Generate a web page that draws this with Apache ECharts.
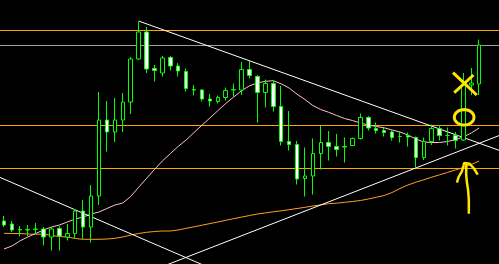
<!DOCTYPE html>
<html><head><meta charset="utf-8">
<script src="https://cdn.jsdelivr.net/npm/echarts@6/dist/echarts.min.js"></script>
<style>html,body{margin:0;padding:0;background:#000;overflow:hidden}#c{width:499px;height:264px}</style>
</head><body><div id="c"></div>
<script>
// bar slots (61 candles + 2 empty slots of chart shift on the right)
const categories = Array.from({length: 63}, (_, i) => String(i + 1));

const opens  = [43,40,34.5,34,34.5,35,27,35.5,27,30.5,53,37,68,144,132,144,162,205,232,195.5,191,206.5,198,192.5,174.5,174,165,162.5,166.5,174,174,194.5,187.5,171.5,180.5,157.5,122.5,119.5,85.5,88,110.5,121.5,117.5,117.5,118.5,125.5,146.5,135.5,133.5,132,127.5,128.5,126.5,106.5,122.5,135.5,128.5,128.5,124,179,180];
const closes = [39,34,34,34.5,35,27,35,28,30.5,53,37,68,144,132,144,162,205,232,195,193.5,206,198,193,175.5,174,165,163,166.5,173.5,174.5,194.5,188.5,171.5,180.5,157.5,122.5,119.5,85,88,110.5,121.5,117.5,114.5,117,125.5,146.5,136,133.5,131.5,126.5,127.5,127,106.5,122.5,135.5,128.5,128.5,123.5,179,181,219];
const lows   = [37,32,27.5,28,30,18.5,13.5,13.5,23.5,25.5,25,21.5,59,112.5,122,132,150,204,191,182.5,187.5,193.5,187.5,172.5,168.5,162.5,157.5,160.5,163.5,167.5,169,185.5,141.5,156.5,152.5,118.5,113.5,79.5,67.5,69.5,94.5,103.5,107.5,101.5,118,124.5,133.5,130.5,127.5,123.5,121.5,117.5,96.5,104,119,123.5,118.5,115.5,123,169,169];
const highs  = [48,43,38,39,41,37,37,38,40,55,64,79,172,163,166,171,207,242.5,237,199,208,208,201,195.5,179,175,170,168.5,176.5,180.5,202,203,189,184.5,183,178,153,123,116.5,125.5,138,133,130,126.5,126.5,150.5,148,141.5,136.5,133.5,132.5,131.5,127.5,126.5,139.5,139,136.5,132,191,196,224.5];

const maFast = [15,18,23,27,30.5,34,37,39,42,45,47,50,52,55.5,59,61,67.5,76.7,85.6,94.5,103,110.3,117.6,124,131.5,138.8,146,153.3,160.5,167,173.3,178.2,181,182.7,183.3,180.2,176,169.8,164.5,158.5,154.5,151.7,148.5,145.5,143.5,141,139,137.5,136.2,134,132,129,125,122,121.5,121.5,122.5,124.5,127,131,136];
const maSlow = [30.7,30.5,30.5,30,29.7,30,28.5,27.5,27,25.5,24.7,24.7,24.7,25,25.7,27,29,30.5,31.7,32.5,33,33,34,35.7,37.2,38.8,40.4,42,43.7,45.3,46.9,48.5,50,51.1,52.2,53.2,54.3,55.5,56.7,58,59.1,60.3,60.8,61.7,62.5,63.5,65,66.7,68.5,71.5,75.5,79,81.8,84.2,86.8,89.2,91.6,94,96.5,99.5,103];

const orangeLevels = [233.5, 138.5, 95.5];
const grayLevels = [218.5];

// trend lines: [[bar, price], [bar, price]]
const trendLines = [
  [[17, 243], [62.5, 113.7]],
  [[-0.5, 86.6], [26, -3.9]],
  [[19.7, -3.5], [62.5, 128.4]]
];

// yellow hand annotations (bar, price)
const crossA = [[56.69, 191.3], [59.69, 169]];
const crossB = [[56.85, 171.3], [59.28, 189]];
const ring = [[58.1, 146.7, 1.24, 7.7]];
const arrowHead = [[57.19,81.3],[57.4,87],[57.81,92.7],[58.03,98.7],[58.1,101],[58.23,101.3],[58.78,100.3],[58.94,99.3],[59.28,96],[59.56,92.7],[59.81,89.3]];
const arrowShaft = [[58.38,100],[58.35,90.3],[58.44,82],[58.6,74],[58.69,64],[58.69,50.3]];

const candleData = opens.map((o, i) => [o, closes[i], lows[i], highs[i]]);

const lime = '#00ff00', yellow = '#ffe600', orange = '#ffa500';
function seg(data, color, width) {
  return {type: 'line', xAxisIndex: 1, yAxisIndex: 0, data: data, symbol: 'none', silent: true,
    lineStyle: {color: color, width: width}, clip: true, z: 3};
}
const series = [];
orangeLevels.forEach(l => series.push(seg([[-0.5, l], [62.5, l]], orange, 1)));
grayLevels.forEach(l => series.push(seg([[-0.5, l], [62.5, l]], '#a0a0a4', 1)));
series.push(seg(maSlow.map((v, i) => [i, v]), '#ff9f1a', 1));
series.push(seg(maFast.map((v, i) => [i, v]), '#ffc0cb', 1));
trendLines.forEach(t => series.push(seg(t, '#ffffff', 1)));
series.push({
  type: 'candlestick', xAxisIndex: 0, yAxisIndex: 0, data: candleData, barWidth: 4, z: 5,
  itemStyle: {color: '#000000', color0: '#ffffff', borderColor: lime, borderColor0: lime, borderColorDoji: lime, borderWidth: 1}
});
const ann = [seg(crossA, yellow, 3), seg(crossB, yellow, 3), seg(arrowHead, yellow, 2.5), seg(arrowShaft, yellow, 2.5)];
ann.forEach(a => { a.z = 10; series.push(a); });
series.push({
  type: 'custom', xAxisIndex: 1, yAxisIndex: 0, data: ring, z: 10, silent: true,
  renderItem: function (params, api) {
    const c = api.coord([api.value(0), api.value(1)]);
    const s = api.size([api.value(2), api.value(3)]);
    const pts = [];
    for (let k = 0; k < 64; k++) {
      const a = k / 64 * Math.PI * 2;
      pts.push([c[0] + s[0] * Math.cos(a), c[1] + s[1] * Math.sin(a)]);
    }
    return {type: 'polygon', shape: {points: pts}, style: {fill: 'none', stroke: yellow, lineWidth: 3}};
  }
});

const chart = echarts.init(document.getElementById('c'), null, {renderer: 'canvas'});
chart.setOption({
  backgroundColor: '#000000',
  animation: false,
  grid: {left: -1.5, right: -3.5, top: 0, bottom: 0, containLabel: false},
  xAxis: [
    {type: 'category', data: categories, boundaryGap: true, show: false},
    {type: 'value', min: -0.5, max: 62.5, show: false}
  ],
  yAxis: [{type: 'value', min: 0, max: 264, show: false, splitLine: {show: false}}],
  series: series
});
</script>
</body></html>
